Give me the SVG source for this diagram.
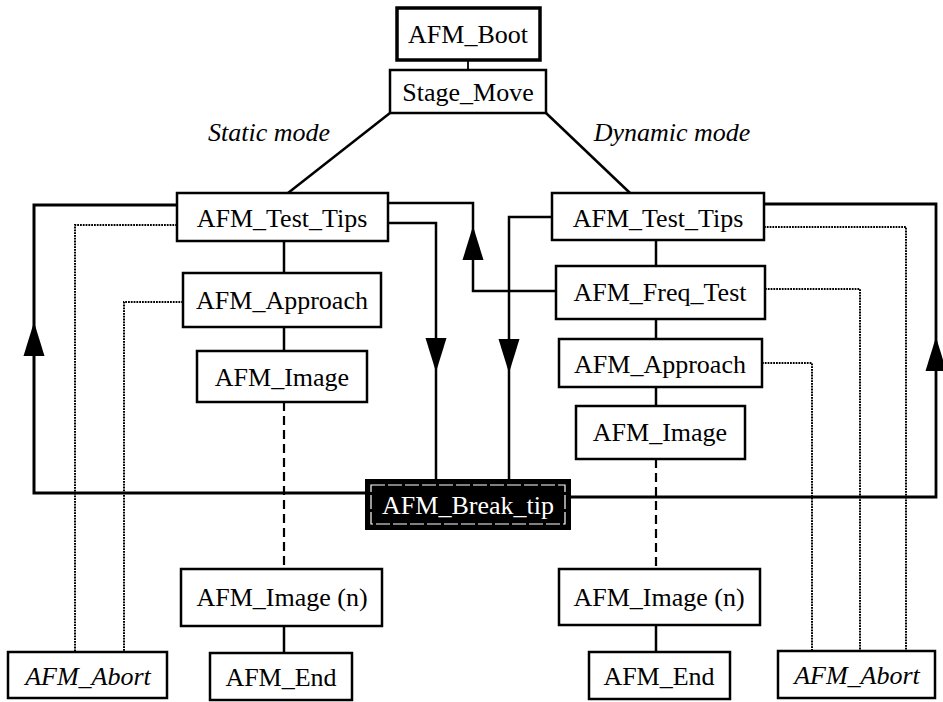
<svg xmlns="http://www.w3.org/2000/svg" xmlns:xlink="http://www.w3.org/1999/xlink" width="943" height="702" viewBox="0 0 943 702">
  <style>
    .box { fill: #fff; stroke: #000; stroke-width: 2.5; }
    .thick { stroke-width: 3.5; }
    .lbl { font-family: "Liberation Serif", "Times New Roman", serif; font-size: 26px; fill: #000; text-anchor: middle; dominant-baseline: central; }
    .it { font-style: italic; }
    .solid { fill: none; stroke: #000; stroke-width: 2.5; }
    .thin { fill: none; stroke: #000; stroke-width: 1.8; }
    .dotted { fill: none; stroke: #000; stroke-width: 2; stroke-dasharray: 1.8 1; }
    .dashed { fill: none; stroke: #000; stroke-width: 2.2; stroke-dasharray: 9 5; }
    .head { fill: #000; stroke: none; }
  </style>
  <defs>
    <!-- filled arrowhead, tip at origin, pointing up -->
    <path id="arrowUp" class="head" d="M0,0 L10.5,34 L-10.5,34 Z"/>
  </defs>
  <rect width="943" height="702" fill="#fff"/>

  <g id="connectors">
    <!-- main trunk -->
    <line class="thin" x1="468" y1="60" x2="468" y2="70"/>
    <line class="solid" x1="390" y1="113" x2="288" y2="193"/>
    <line class="solid" x1="546" y1="113" x2="630" y2="193"/>

    <!-- static mode column -->
    <line class="solid" x1="284" y1="241" x2="284" y2="273"/>
    <line class="solid" x1="284" y1="327" x2="284" y2="351"/>
    <line class="dashed" x1="284" y1="402" x2="284" y2="569"/>
    <line class="solid" x1="284" y1="626" x2="284" y2="653"/>

    <!-- dynamic mode column -->
    <line class="solid" x1="656" y1="240" x2="656" y2="266"/>
    <line class="solid" x1="656" y1="319" x2="656" y2="339"/>
    <line class="solid" x1="656" y1="387" x2="656" y2="406"/>
    <line class="dashed" x1="656" y1="459" x2="656" y2="569"/>
    <line class="solid" x1="656" y1="625" x2="656" y2="652"/>

    <!-- break-tip loops -->
    <polyline class="solid" points="367,493 34,493 34,205 177,205" style="stroke-width:3"/>
    <polyline class="thin" points="570,497 936,497 936,204 764,204" style="stroke-width:2.8"/>
    <polyline class="solid" points="388,223 436,223 436,480"/>
    <polyline class="solid" points="552,217 509,217 509,480"/>
    <polyline class="solid" points="388,203 473,203 473,291 556,291"/>

    <!-- abort paths -->
    <polyline class="dotted" points="177,225 75,225 75,652"/>
    <polyline class="dotted" points="183,302 124,302 124,652"/>
    <polyline class="dotted" points="764,227 906,227 906,651"/>
    <polyline class="dotted" points="765,289 860,289 860,651"/>
    <polyline class="dotted" points="762,363 812,363 812,651"/>

    <!-- arrowheads -->
    <use xlink:href="#arrowUp" transform="translate(34,322)"/>
    <use xlink:href="#arrowUp" transform="translate(936,337)"/>
    <use xlink:href="#arrowUp" transform="translate(473,226)"/>
    <use xlink:href="#arrowUp" transform="translate(436,372) rotate(180)"/>
    <use xlink:href="#arrowUp" transform="translate(509,373) rotate(180)"/>
  </g>

  <g id="afm-boot">
    <rect class="box thick" x="397" y="8" width="143" height="52"/>
    <text class="lbl" x="468" y="34">AFM_Boot</text>
  </g>
  <g id="stage-move">
    <rect class="box" x="390" y="70" width="156" height="43"/>
    <text class="lbl" x="468" y="92">Stage_Move</text>
  </g>
  <text class="lbl it" x="269" y="132">Static mode</text>
  <text class="lbl it" x="672" y="132">Dynamic mode</text>

  <g id="static-test-tips">
    <rect class="box" x="177" y="193" width="211" height="48"/>
    <text class="lbl" x="282" y="218">AFM_Test_Tips</text>
  </g>
  <g id="static-approach">
    <rect class="box" x="183" y="273" width="198" height="54"/>
    <text class="lbl" x="282" y="300">AFM_Approach</text>
  </g>
  <g id="static-image">
    <rect class="box" x="197" y="351" width="170" height="51"/>
    <text class="lbl" x="282" y="377">AFM_Image</text>
  </g>
  <g id="static-image-n">
    <rect class="box" x="181" y="569" width="201" height="57"/>
    <text class="lbl" x="282" y="597">AFM_Image (n)</text>
  </g>
  <g id="static-end">
    <rect class="box" x="210" y="653" width="142" height="47"/>
    <text class="lbl" x="281" y="677">AFM_End</text>
  </g>
  <g id="static-abort">
    <rect class="box" x="8" y="652" width="159" height="46"/>
    <text class="lbl it" x="88" y="676">AFM_Abort</text>
  </g>

  <g id="dynamic-test-tips">
    <rect class="box" x="552" y="193" width="212" height="47"/>
    <text class="lbl" x="658" y="218">AFM_Test_Tips</text>
  </g>
  <g id="dynamic-freq-test">
    <rect class="box" x="556" y="266" width="209" height="53"/>
    <text class="lbl" x="660" y="292">AFM_Freq_Test</text>
  </g>
  <g id="dynamic-approach">
    <rect class="box" x="559" y="339" width="203" height="48"/>
    <text class="lbl" x="660" y="364">AFM_Approach</text>
  </g>
  <g id="dynamic-image">
    <rect class="box" x="576" y="406" width="169" height="53"/>
    <text class="lbl" x="660" y="432">AFM_Image</text>
  </g>
  <g id="dynamic-image-n">
    <rect class="box" x="559" y="569" width="201" height="56"/>
    <text class="lbl" x="659" y="597">AFM_Image (n)</text>
  </g>
  <g id="dynamic-end">
    <rect class="box" x="589" y="652" width="141" height="47"/>
    <text class="lbl" x="659" y="676">AFM_End</text>
  </g>
  <g id="dynamic-abort">
    <rect class="box" x="778" y="651" width="157" height="47"/>
    <text class="lbl it" x="857" y="675">AFM_Abort</text>
  </g>

  <g id="break-tip">
    <rect x="366" y="480" width="204" height="49" fill="#000" stroke="#000" stroke-width="2"/>
    <rect x="371" y="485" width="194" height="39" fill="none" stroke="#fff" stroke-width="1.2" stroke-dasharray="14 3"/>
    <text class="lbl" x="468" y="505" style="fill:#fff">AFM_Break_tip</text>
  </g>
</svg>
